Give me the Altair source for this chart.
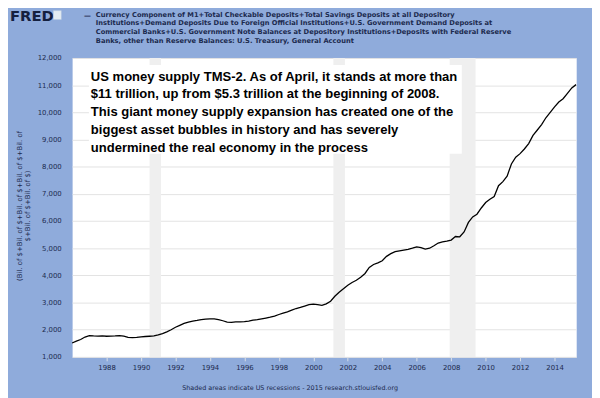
import altair as alt
import pandas as pd

# ---- data ----
dates = [
    "1986-01", "1986-04", "1986-07", "1986-10", "1987-01", "1987-04", "1987-07", "1987-10",
    "1988-01", "1988-04", "1988-07", "1988-10", "1989-01", "1989-04", "1989-07", "1989-10",
    "1990-01", "1990-04", "1990-07", "1990-10", "1991-01", "1991-04", "1991-07", "1991-10",
    "1992-01", "1992-04", "1992-07", "1992-10", "1993-01", "1993-04", "1993-07", "1993-10",
    "1994-01", "1994-04", "1994-07", "1994-10", "1995-01", "1995-04", "1995-07", "1995-10",
    "1996-01", "1996-04", "1996-07", "1996-10", "1997-01", "1997-04", "1997-07", "1997-10",
    "1998-01", "1998-04", "1998-07", "1998-10", "1999-01", "1999-04", "1999-07", "1999-10",
    "2000-01", "2000-04", "2000-07", "2000-10", "2001-01", "2001-04", "2001-07", "2001-10",
    "2002-01", "2002-04", "2002-07", "2002-10", "2003-01", "2003-04", "2003-07", "2003-10",
    "2004-01", "2004-04", "2004-07", "2004-10", "2005-01", "2005-04", "2005-07", "2005-10",
    "2006-01", "2006-04", "2006-07", "2006-10", "2007-01", "2007-04", "2007-07", "2007-10",
    "2008-01", "2008-04", "2008-07", "2008-10", "2009-01", "2009-04", "2009-07", "2009-10",
    "2010-01", "2010-04", "2010-07", "2010-10", "2011-01", "2011-04", "2011-07", "2011-10",
    "2012-01", "2012-04", "2012-07", "2012-10", "2013-01", "2013-04", "2013-07", "2013-10",
    "2014-01", "2014-04", "2014-07", "2014-10", "2015-01", "2015-04",
]
values = [
    1510, 1580, 1640, 1730, 1780, 1770, 1765, 1770,
    1760, 1765, 1770, 1785, 1760, 1715, 1710, 1720,
    1740, 1750, 1760, 1770, 1810, 1860, 1920, 2000,
    2090, 2160, 2230, 2280, 2320, 2340, 2370, 2390,
    2400, 2400, 2370, 2330, 2280, 2270, 2285, 2290,
    2300, 2320, 2350, 2370, 2400, 2430, 2460, 2500,
    2560, 2610, 2660, 2720, 2780, 2820, 2870, 2920,
    2940, 2920, 2900, 2950, 3050, 3230, 3380, 3510,
    3640, 3740, 3820, 3930, 4070, 4290, 4400, 4460,
    4540, 4700, 4800, 4870, 4900, 4930, 4960, 5000,
    5050, 5020, 4970, 5000, 5090, 5190, 5230, 5260,
    5300, 5430, 5420, 5600, 5950, 6150, 6250, 6480,
    6680, 6800, 6900, 7300, 7450, 7650, 8100, 8350,
    8480, 8650, 8850, 9150, 9350, 9550, 9800, 10000,
    10200, 10380, 10500, 10700, 10900, 11020,
]
rec_start = ["1990-07-01", "2001-03-01", "2007-12-01"]
rec_end = ["1991-03-01", "2001-11-01", "2009-06-01"]
y_ticks = list(range(1000, 12001, 1000))
x_tick_years = list(range(1988, 2015, 2))

title_lines = (
    "Currency Component of M1+Total Checkable Deposits+Total Savings Deposits at all Depository\n"
    "Institutions+Demand Deposits Due to Foreign Official Institutions+U.S. Government Demand Deposits at\n"
    "Commercial Banks+U.S. Government Note Balances at Depository Institutions+Deposits with Federal Reserve\n"
    "Banks, other than Reserve Balances: U.S. Treasury, General Account"
)
note_lines = (
    "US money supply TMS-2. As of April, it stands at more than\n"
    "$11 trillion, up from $5.3 trillion at the beginning of 2008.\n"
    "This giant money supply expansion has created one of the\n"
    "biggest asset bubbles in history and has severely\n"
    "undermined the real economy in the process"
)
y_title = "(Bil. of $+Bil. of $+Bil. of $+Bil. of $+Bil. of\n$+Bil. of $+Bil. of $)"
footer = "Shaded areas indicate US recessions - 2015 research.stlouisfed.org"

NAVY = "#1c2a4e"
BG = "#8fabdb"

series = pd.DataFrame({"date": pd.to_datetime(dates), "value": values})
recs = pd.DataFrame({"start": pd.to_datetime(rec_start), "end": pd.to_datetime(rec_end)})
one = pd.DataFrame({"k": [0]})

xscale = alt.Scale(domain=[alt.DateTime(year=1986, month=1, date=1),
                           alt.DateTime(year=2015, month=4, date=5)])
yscale = alt.Scale(domain=[1000, 12000], nice=False)

xaxis = alt.Axis(values=[alt.DateTime(year=y, month=1, date=1) for y in x_tick_years],
                 format="%Y", title=None, grid=False, domain=False,
                 ticks=True, tickColor="#d8dde6", tickSize=4,
                 labelOverlap=False,
                 labelColor=NAVY, labelFont="DejaVu Sans", labelFontSize=7,
                 labelPadding=3)

rec_layer = alt.Chart(recs).mark_rect(color="#efefef").encode(
    x=alt.X("start:T", scale=xscale, axis=xaxis),
    x2="end:T",
)

line_layer = alt.Chart(series).mark_line(color="black", strokeWidth=1.3).encode(
    x=alt.X("date:T", scale=xscale, axis=xaxis),
    y=alt.Y("value:Q", scale=yscale,
            axis=alt.Axis(values=y_ticks, format=",.0f", title=None, grid=True,
                          gridColor="#e3e3e3", domain=False, ticks=False,
                          labelOverlap=False,
                          labelColor=NAVY, labelFont="DejaVu Sans", labelFontSize=7,
                          labelPadding=11)),
)

ytitle = alt.Chart(one).mark_text(
    text=y_title, lineBreak="\n", lineHeight=8, angle=270, align="center",
    baseline="middle", font="DejaVu Sans", fontSize=7, color=NAVY
).encode(x=alt.value(-53), y=alt.value(150))

box = alt.Chart(one).mark_rect(fill="white").encode(
    x=alt.value(17), x2=alt.value(395), y=alt.value(7), y2=alt.value(97)
)
note = alt.Chart(one).mark_text(
    text=note_lines, lineBreak="\n", lineHeight=18, align="left", baseline="top",
    font="Liberation Sans", fontWeight="bold", fontSize=13.2, color="black"
).encode(x=alt.value(19), y=alt.value(13))

title_dash = alt.Chart(one).mark_text(
    text="\u2014", align="left", baseline="middle", font="DejaVu Sans",
    fontWeight="bold", fontSize=7, color=NAVY
).encode(x=alt.value(12), y=alt.value(-43))
title_txt = alt.Chart(one).mark_text(
    text=title_lines, lineBreak="\n", lineHeight=9, align="left", baseline="top",
    font="DejaVu Sans", fontWeight="bold", fontSize=6.8, color=NAVY
).encode(x=alt.value(24), y=alt.value(-47))

logo = alt.Chart(one).mark_text(
    text="FRED", align="left", baseline="middle", font="DejaVu Sans",
    fontWeight="bold", fontSize=15, color="#14203f"
).encode(x=alt.value(-63), y=alt.value(-43))
logo_icon = alt.Chart(one).mark_rect(fill="#e6edf3", stroke="#b9cbe0", strokeWidth=0.5).encode(
    x=alt.value(-19), x2=alt.value(-11), y=alt.value(-48), y2=alt.value(-39)
)

foot = alt.Chart(one).mark_text(
    text=footer, align="center", baseline="middle", font="DejaVu Sans",
    fontSize=6.5, color=NAVY
).encode(x=alt.value(221), y=alt.value(335))

chart = alt.layer(
    rec_layer, line_layer, ytitle, box, note, title_dash, title_txt, logo, logo_icon, foot
).properties(
    width=511, height=303,
    autosize=alt.AutoSizeParams(type="none"),
    padding={"left": 65, "top": 48, "right": 16, "bottom": 39},
    background=BG,
).configure_view(stroke="transparent", fill="white")

chart.save("out.html", embed_options={"renderer": "svg", "actions": False})
